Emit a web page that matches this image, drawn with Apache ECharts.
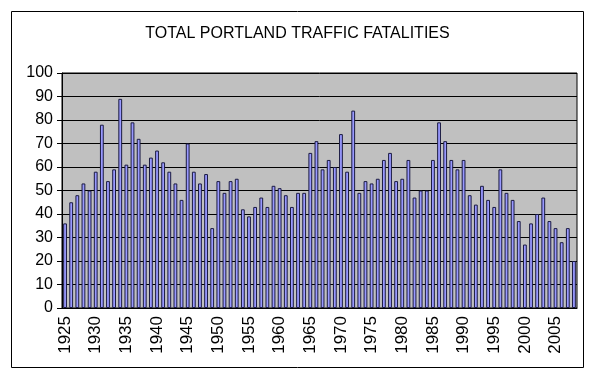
<!DOCTYPE html>
<html>
<head>
<meta charset="utf-8">
<script src="https://cdn.jsdelivr.net/npm/echarts@6/dist/echarts.min.js"></script>
<style>
  html, body { margin: 0; padding: 0; background: #fff; }
  #chart { width: 595px; height: 377px; }
</style>
</head>
<body>
<div id="chart"></div>
<script>
// fatalities per year
const years = []
for (let y = 1925; y <= 2008; y++) years.push(String(y))

const fatalities = [
  36, 45, 48, 53, 50, 58, 78, 54, 59, 89,   // 1925-1934
  61, 79, 72, 61, 64, 67, 62, 58, 53, 46,   // 1935-1944
  70, 58, 53, 57, 34, 54, 49, 54, 55, 42,   // 1945-1954
  39, 43, 47, 43, 52, 51, 48, 43, 49, 49,   // 1955-1964
  66, 71, 59, 63, 60, 74, 58, 84, 49, 54,   // 1965-1974
  53, 55, 63, 66, 54, 55, 63, 47, 50, 50,   // 1975-1984
  63, 79, 71, 63, 59, 63, 48, 44, 52, 46,   // 1985-1994
  43, 59, 49, 46, 37, 27, 36, 40, 47, 37,   // 1995-2004
  34, 28, 34, 20                            // 2005-2008
]

const yTicks = [0, 10, 20, 30, 40, 50, 60, 70, 80, 90, 100]

const font = 'Arial, "Liberation Sans", sans-serif'

const myChart = echarts.init(document.getElementById('chart'))

const option = {
  animation: false,
  backgroundColor: '#fff',
  title: {
    text: 'TOTAL PORTLAND TRAFFIC FATALITIES',
    left: 'center',
    top: 21,
    textStyle: { fontFamily: font, fontSize: 16, fontWeight: 'normal', color: '#000' }
  },
  graphic: [{
    type: 'rect',
    shape: { x: 11.5, y: 11.5, width: 572, height: 356 },
    style: { fill: 'none', stroke: '#000', lineWidth: 1 },
    z: -1
  }],
  grid: {
    left: 62, right: 18, top: 73, bottom: 69,
    show: true,
    backgroundColor: '#c0c0c0',
    borderColor: '#000',
    borderWidth: 1
  },
  xAxis: {
    type: 'category',
    data: years,
    axisLine: { lineStyle: { color: '#000' } },
    axisTick: { interval: 0, length: 4, lineStyle: { color: '#000' } },
    axisLabel: {
      interval: (i, v) => Number(v) % 5 === 0,
      rotate: 90,
      margin: 8,
      fontFamily: font,
      fontSize: 17,
      color: '#000'
    }
  },
  yAxis: {
    type: 'value',
    min: yTicks[0],
    max: yTicks[yTicks.length - 1],
    interval: 10,
    axisLine: { show: true, lineStyle: { color: '#000' } },
    axisTick: { show: true, length: 5, lineStyle: { color: '#000' } },
    axisLabel: { fontFamily: font, fontSize: 16, color: '#000', margin: 9 },
    splitLine: { lineStyle: { color: '#000', width: 1 } }
  },
  series: [{
    type: 'bar',
    data: fatalities,
    barCategoryGap: '38%',
    itemStyle: { color: '#9999ff', borderColor: '#1a1a40', borderWidth: 1 }
  }]
}

myChart.setOption(option)
</script>
</body>
</html>
